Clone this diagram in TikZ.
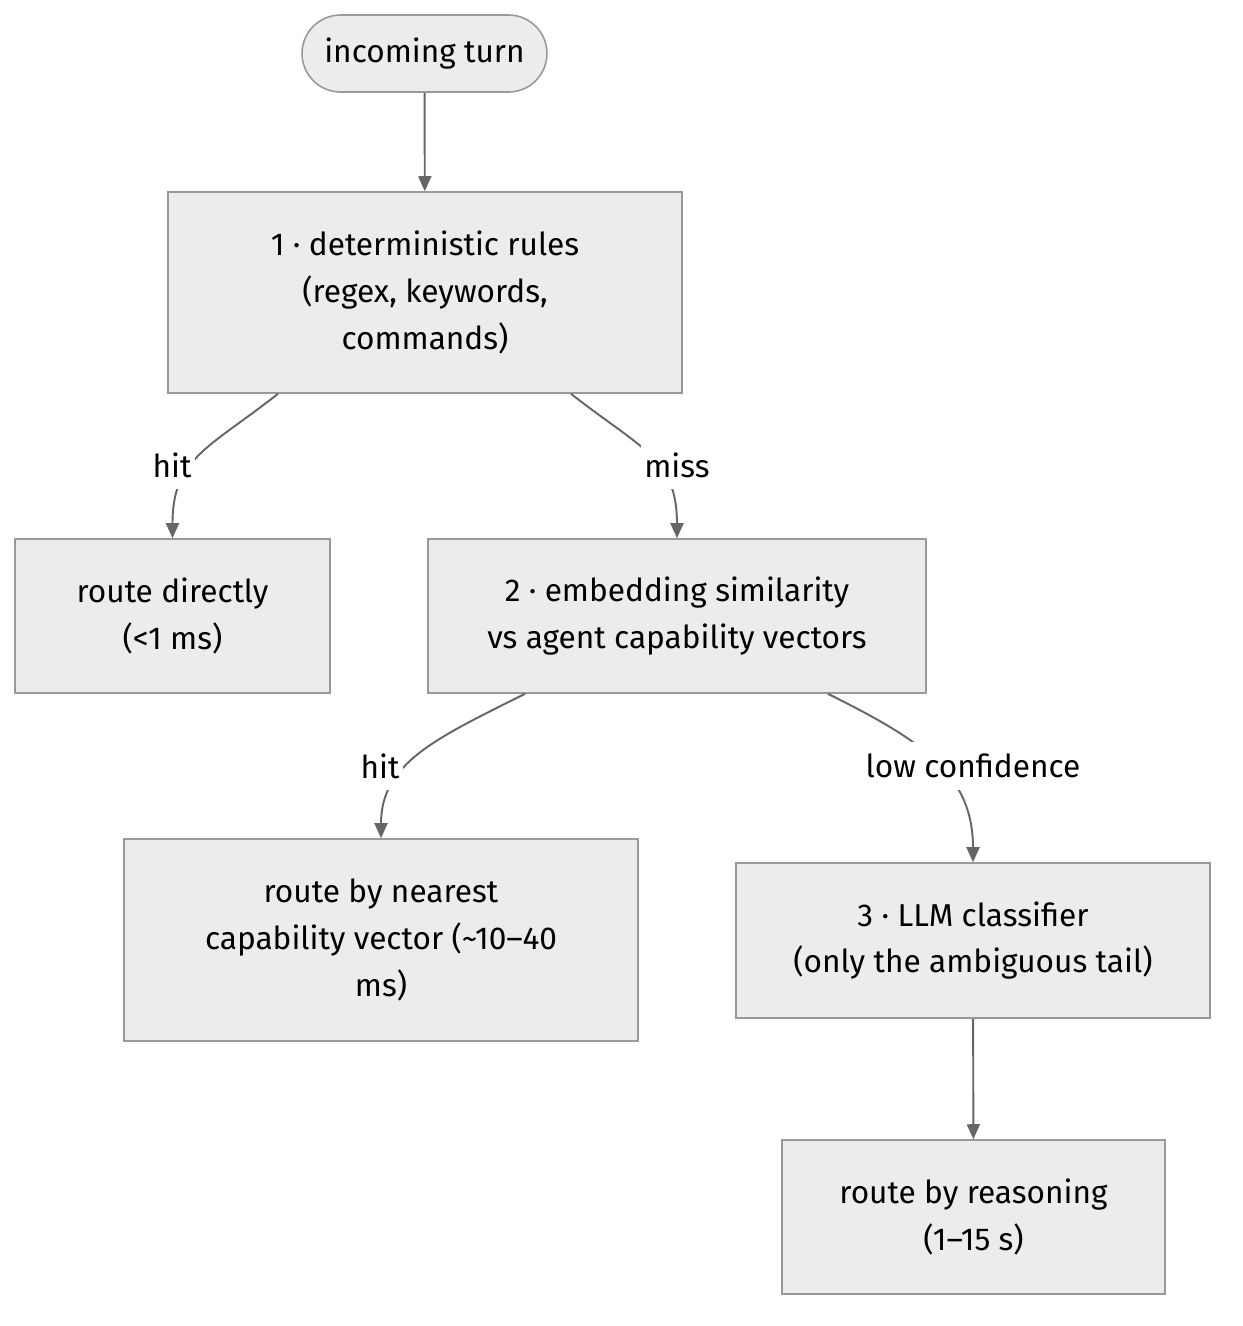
\documentclass[tikz,border=0pt]{standalone}
\usepackage{fontspec}
\setmainfont{Fira Sans}
\usetikzlibrary{arrows.meta}
\definecolor{boxfill}{HTML}{ECECEC}
\definecolor{boxline}{HTML}{999999}
\definecolor{edgeline}{HTML}{666666}

\begin{document}
\begin{tikzpicture}[x=0.02cm,y=0.02cm,
  every node/.style={font=\fontsize{18}{26.7}\selectfont,align=center,inner sep=0pt},
  stage/.style={draw=boxline,fill=boxfill,line width=0.9pt},
  flow/.style={draw=edgeline,line width=1.1pt,-{Triangle[length=0.3cm,width=0.26cm]}},
  tag/.style={fill=white,minimum height=0.96cm,inner xsep=2pt}]
\useasboundingbox (0,0) rectangle (1242,-1326);
% stages
\node[stage,rounded corners=0.77cm,minimum width=4.9cm,minimum height=1.54cm] (turn) at (424.5,-53.5) {incoming turn};
\node[stage,minimum width=10.28cm,minimum height=4.02cm] (rules) at (425,-292.5) {1 · deterministic rules\\(regex, keywords,\\commands)};
\node[stage,minimum width=6.3cm,minimum height=3.08cm] (direct) at (172.5,-616) {route directly\\(<1 ms)};
\node[stage,minimum width=9.96cm,minimum height=3.08cm] (embed) at (677,-616) {2 · embedding similarity\\vs agent capability vectors};
\node[stage,minimum width=10.28cm,minimum height=4.04cm] (nearest) at (381,-940) {route by nearest\\capability vector (\textasciitilde10–40\\ms)};
\node[stage,minimum width=9.48cm,minimum height=3.1cm] (llm) at (973,-940.5) {3 · LLM classifier\\(only the ambiguous tail)};
\node[stage,minimum width=7.66cm,minimum height=3.08cm] (reason) at (973.5,-1217) {route by reasoning\\(1–15 s)};
% connectors
\draw[flow] (turn) -- (rules);
\draw[flow] ([xshift=-2.94cm]rules.south) .. controls +(-70,-55) and +(0,80) .. (direct.north);
\draw[flow] ([xshift=2.92cm]rules.south) .. controls +(70,-55) and +(0,80) .. (embed.north);
\draw[flow] ([xshift=-3.04cm]embed.south) .. controls +(-90,-45) and +(0,75) .. (nearest.north);
\draw[flow] ([xshift=3.02cm]embed.south) .. controls +(90,-45) and +(0,90) .. (llm.north);
\draw[flow] (llm) -- (reason);
% labels
\node[tag] (hitA) at (172,-465) {hit};
\node[tag] (missA) at (677,-465) {miss};
\node[tag] (hitB) at (380,-766) {hit};
\node[tag] (lowB) at (973,-766) {low confidence};
\end{tikzpicture}
\end{document}
